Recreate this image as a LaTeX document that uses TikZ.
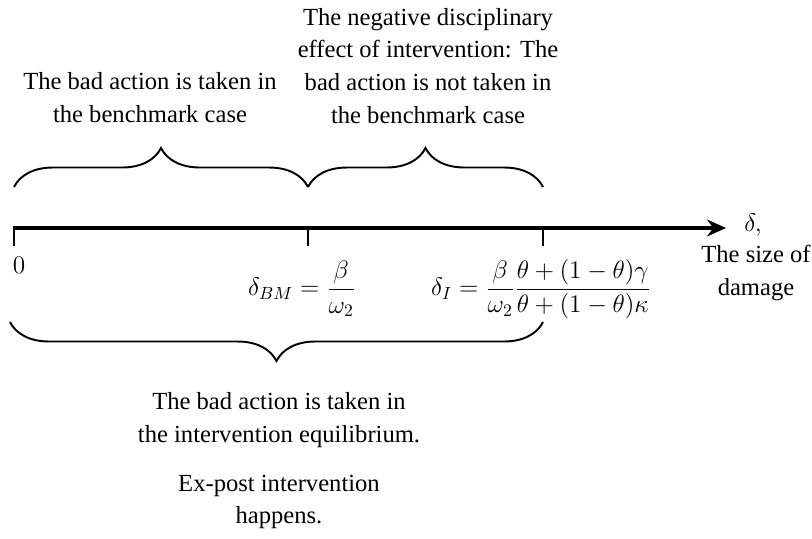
\documentclass[tikz,border=0pt]{standalone}
\usepackage{fontspec}
\setmainfont{Liberation Serif}
\usetikzlibrary{arrows.meta,decorations.pathreplacing}

\tikzset{
    lbl/.style={align=center, font=\fontsize{14}{18.7}\selectfont},
    mth/.style={font=\fontsize{14.6}{17}\selectfont},
    brc/.style={decorate, decoration={brace, amplitude=0.78cm}, line width=1.1pt},
    tickmark/.style={line width=0.6pt}
}

\begin{document}
\begin{tikzpicture}[x=0.02cm,y=-0.02cm]
    \useasboundingbox (0,0) rectangle (812,538);
    % points on the axis
    \coordinate (o) at (14,228);
    \coordinate (bm) at (308,228);
    \coordinate (i) at (543,228);
    \coordinate (e) at (726,228);
    \draw [line width=2.2pt, -{Stealth[length=0.38cm,width=0.34cm]}] (o) -- (e);
    \foreach \c in {o,bm,i}
        {\draw [tickmark] (\c) ++(0,-2) -- ++(0,20);}

    % braces
    \coordinate (t0) at (14,187);
    \coordinate (t1) at (308,187);
    \coordinate (t2) at (543,187);
    \coordinate (b0) at (10,322);
    \coordinate (b2) at (543,322);
    \draw [brc] (t0) -- (t1);
    \draw [brc] (t1) -- (t2);
    \draw [brc] (b2) -- (b0);

    \node [lbl] (bench) at (150,98) {The bad action is taken in\\the benchmark case};
    \node [lbl] (negeff) at (428,66) {The negative disciplinary\\effect of intervention: The\\bad action is not taken in\\the benchmark case};
    \node [lbl] (interv) at (279,420) {The bad action is taken in\\the intervention equilibrium.};
    \node [lbl] (expost) at (279,502) {Ex-post intervention\\happens.};

    \node [mth] (zero) at (19,265) {$0$};
    \node [mth] (dbm) at (302,289) {$\displaystyle\delta_{BM}=\frac{\beta}{\omega_2}$};
    \node [mth] (di) at (541,289) {$\displaystyle\delta_I=\frac{\beta}{\omega_2}\frac{\theta+(1-\theta)\gamma}{\theta+(1-\theta)\kappa}$};
    \node [mth] (dlt) at (753,225) {$\delta,$};
    \node [lbl] (size) at (756,273) {The size of\\damage};
\end{tikzpicture}
\end{document}
